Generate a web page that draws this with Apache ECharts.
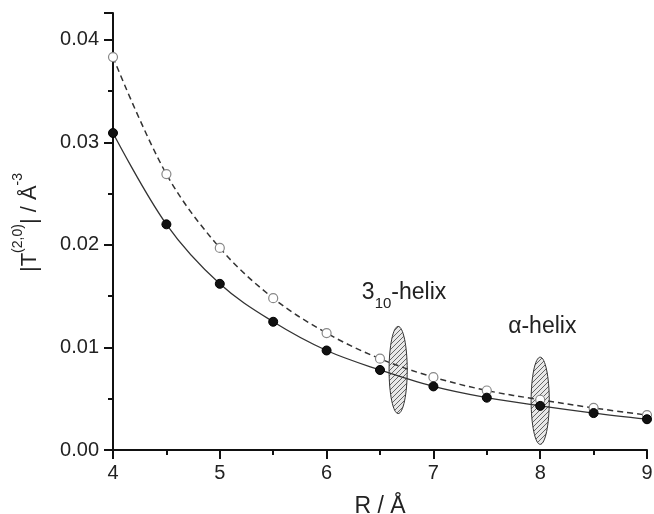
<!DOCTYPE html>
<html>
<head>
<meta charset="utf-8">
<script src="https://cdn.jsdelivr.net/npm/echarts@6/dist/echarts.min.js"></script>
<style>
  html, body { margin: 0; padding: 0; background: #fff; }
  #chart { width: 654px; height: 514px; }
</style>
</head>
<body>
<div id="chart"></div>
<script>
// R / Å
const radius = [4, 4.5, 5, 5.5, 6, 6.5, 7, 7.5, 8, 8.5, 9];
// filled circles, solid line
const solidVals = [0.0309, 0.0220, 0.0162, 0.0125, 0.0097, 0.0078, 0.0062, 0.0051, 0.0043, 0.0036, 0.0030];
// open circles, dashed line
const dashedVals = [0.0383, 0.0269, 0.0197, 0.0148, 0.0114, 0.0089, 0.0071, 0.0058, 0.0049, 0.0041, 0.0034];
// hatched ellipses: [R, T, half-width R, half-height T]
const ellipses = [[6.67, 0.0078, 0.085, 0.00425], [8.0, 0.0048, 0.085, 0.00425]];
// annotation labels: [R, T, text]
const notes = [[6.33, 0.0150, '{a|3}{s|10}{a|-helix}'], [7.70, 0.0117, '{a|α-helix}']];

const font = 'Arial, "Liberation Sans", Helvetica, sans-serif';

// diagonal hatch
const hatch = document.createElement('canvas');
hatch.width = 5; hatch.height = 5;
const hc = hatch.getContext('2d');
hc.fillStyle = '#e8e8e8';
hc.fillRect(0, 0, 5, 5);
hc.strokeStyle = '#555';
hc.lineWidth = 0.9;
hc.beginPath();
hc.moveTo(0, 5); hc.lineTo(5, 0);
hc.moveTo(-1, 1); hc.lineTo(1, -1);
hc.moveTo(4, 6); hc.lineTo(6, 4);
hc.stroke();

const chart = echarts.init(document.getElementById('chart'));
chart.setOption({
  animation: false,
  grid: { left: 113, right: 7, top: 13, bottom: 64, outerBoundsMode: 'none', containLabel: false },
  xAxis: {
    type: 'value', min: 4, max: 9, interval: 1,
    name: 'R / Å', nameLocation: 'middle', nameGap: 45,
    nameTextStyle: { fontFamily: font, fontSize: 23, color: '#222' },
    axisLine: { lineStyle: { color: '#111', width: 2 } },
    axisTick: { length: 9, lineStyle: { color: '#111', width: 2 } },
    minorTick: { show: true, splitNumber: 2, length: 5, lineStyle: { color: '#111', width: 2 } },
    splitLine: { show: false },
    axisLabel: { fontFamily: font, fontSize: 20, color: '#222', margin: 13 }
  },
  yAxis: {
    type: 'value', min: 0, max: 0.0426, interval: 0.01,
    name: '{a||T}{s|(2,0)}{a|| / Å}{s|-3}', nameLocation: 'middle', nameGap: 72, nameRotate: 90,
    nameTextStyle: {
      fontFamily: font, color: '#222', padding: [0, 0, 0, 18],
      rich: {
        a: { fontFamily: font, fontSize: 22, color: '#222', lineHeight: 30, verticalAlign: 'bottom' },
        s: { fontFamily: font, fontSize: 14, color: '#222', lineHeight: 30, verticalAlign: 'top' }
      }
    },
    axisLine: { show: true, lineStyle: { color: '#111', width: 2 } },
    axisTick: { show: true, length: 9, lineStyle: { color: '#111', width: 2 } },
    minorTick: { show: true, splitNumber: 2, length: 5, lineStyle: { color: '#111', width: 2 } },
    splitLine: { show: false },
    axisLabel: {
      fontFamily: font, fontSize: 20, color: '#222', margin: 14, showMaxLabel: false,
      formatter: v => v.toFixed(2)
    }
  },
  series: [
    {
      type: 'custom', z: 1, silent: true,
      data: ellipses,
      renderItem: (params, api) => {
        const c = api.coord([api.value(0), api.value(1)]);
        const s = api.size([api.value(2), api.value(3)]);
        return {
          type: 'ellipse',
          shape: { cx: c[0], cy: c[1], rx: s[0], ry: s[1] },
          style: { fill: { image: hatch, repeat: 'repeat' }, stroke: '#333', lineWidth: 1 }
        };
      }
    },
    {
      type: 'line', z: 3, data: radius.map((r, i) => [r, dashedVals[i]]),
      smooth: 0.35, symbol: 'circle', symbolSize: 9,
      lineStyle: { color: '#333', width: 1.5, type: [6, 4] },
      itemStyle: { color: '#fff', borderColor: '#888', borderWidth: 1.2 }
    },
    {
      type: 'line', z: 4, data: radius.map((r, i) => [r, solidVals[i]]),
      smooth: 0.35, symbol: 'circle', symbolSize: 9,
      lineStyle: { color: '#333', width: 1.3 },
      itemStyle: { color: '#111', borderColor: '#000', borderWidth: 1 }
    },
    {
      type: 'custom', z: 5, silent: true,
      data: notes.map(n => [n[0], n[1]]),
      renderItem: (params, api) => {
        const c = api.coord([api.value(0), api.value(1)]);
        return {
          type: 'text',
          style: {
            x: c[0], y: c[1], text: notes[params.dataIndex][2],
            align: 'left', verticalAlign: 'middle',
            rich: {
              a: { fontFamily: font, fontSize: 23, fill: '#222', lineHeight: 30, verticalAlign: 'top' },
              s: { fontFamily: font, fontSize: 15, fill: '#222', lineHeight: 30, verticalAlign: 'bottom' }
            }
          }
        };
      }
    }
  ]
});
</script>
</body>
</html>
